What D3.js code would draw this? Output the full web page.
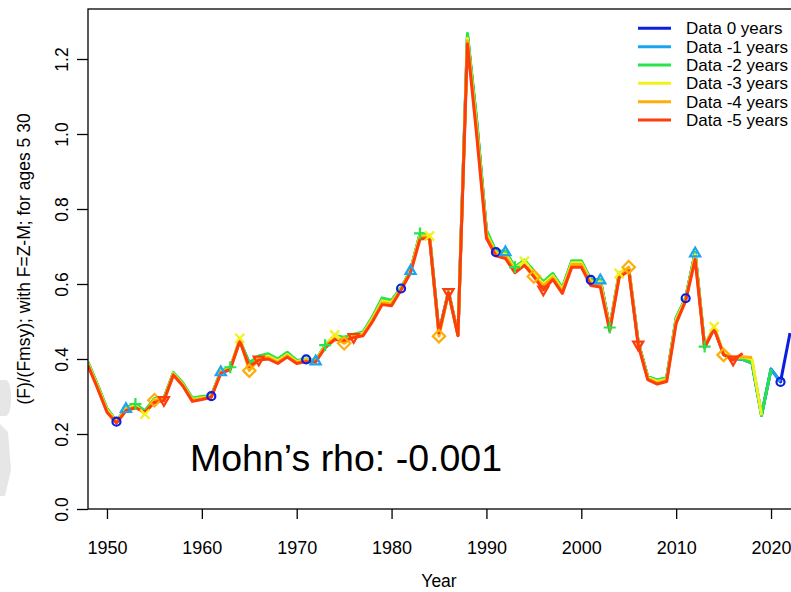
<!DOCTYPE html>
<html>
<head>
<meta charset="utf-8">
<script src="https://cdn.jsdelivr.net/npm/d3@7"></script>
<style>
  html, body { margin: 0; padding: 0; background: #ffffff; }
  svg { display: block; font-family: "Liberation Sans", Arial, sans-serif; }
</style>
</head>
<body>
<svg id="chart" width="791" height="592"></svg>
<script>
// Retrospective F/Fmsy estimates (peels 0 to -5), starting year 1948
const startYear = 1948;

const data0 = [0.390,0.330,0.266,0.233,0.268,0.278,0.260,0.293,0.294,0.362,0.334,0.294,0.298,0.301,0.366,0.377,0.449,0.388,0.406,0.412,
  0.398,0.416,0.395,0.399,0.395,0.436,0.460,0.456,0.464,0.470,0.511,0.560,0.555,0.588,0.636,0.733,0.729,0.469,0.579,0.465,
  1.262,1.025,0.740,0.685,0.686,0.644,0.662,0.633,0.604,0.626,0.588,0.660,0.660,0.611,0.611,0.483,0.628,0.641,0.444,0.352,
  0.343,0.349,0.508,0.562,0.683,0.433,0.484,0.412,0.401,0.399,0.389,0.250,0.373,0.339,0.469];
const data1 = [0.390,0.330,0.266,0.233,0.268,0.278,0.260,0.293,0.294,0.362,0.334,0.294,0.298,0.301,0.366,0.377,0.449,0.388,0.406,0.412,
  0.398,0.416,0.395,0.399,0.395,0.436,0.460,0.456,0.464,0.470,0.511,0.560,0.555,0.588,0.636,0.733,0.729,0.469,0.579,0.465,
  1.262,1.025,0.740,0.686,0.686,0.644,0.662,0.633,0.604,0.626,0.588,0.660,0.660,0.611,0.611,0.483,0.628,0.641,0.444,0.352,
  0.343,0.349,0.508,0.562,0.683,0.433,0.484,0.412,0.401,0.399,0.389,0.250,0.373,0.340];
const data2 = [0.392,0.332,0.268,0.234,0.270,0.280,0.262,0.295,0.296,0.364,0.336,0.296,0.300,0.302,0.367,0.378,0.450,0.390,0.408,0.414,
  0.400,0.418,0.396,0.400,0.397,0.437,0.462,0.458,0.466,0.472,0.513,0.563,0.557,0.590,0.637,0.735,0.730,0.470,0.580,0.466,
  1.268,1.030,0.744,0.688,0.688,0.645,0.664,0.635,0.606,0.628,0.590,0.662,0.662,0.611,0.611,0.484,0.630,0.642,0.445,0.353,
  0.344,0.350,0.510,0.563,0.683,0.433,0.484,0.413,0.402,0.400,0.390,0.250,0.373];
const data3 = [0.388,0.328,0.264,0.232,0.267,0.276,0.253,0.292,0.293,0.361,0.332,0.292,0.296,0.300,0.365,0.376,0.455,0.375,0.403,0.408,
  0.395,0.412,0.393,0.398,0.395,0.435,0.464,0.448,0.463,0.468,0.508,0.555,0.551,0.587,0.635,0.731,0.728,0.466,0.578,0.464,
  1.255,1.010,0.733,0.683,0.680,0.641,0.660,0.628,0.600,0.622,0.585,0.657,0.657,0.607,0.606,0.481,0.628,0.640,0.442,0.350,
  0.340,0.346,0.505,0.560,0.678,0.433,0.486,0.415,0.405,0.405,0.400,0.250];
const data4 = [0.385,0.325,0.261,0.231,0.265,0.273,0.256,0.290,0.291,0.359,0.330,0.290,0.294,0.300,0.364,0.374,0.452,0.369,0.400,0.404,
  0.391,0.409,0.391,0.396,0.394,0.433,0.458,0.442,0.460,0.465,0.504,0.550,0.547,0.586,0.633,0.726,0.725,0.461,0.577,0.463,
  1.248,1.000,0.728,0.680,0.675,0.636,0.655,0.620,0.595,0.617,0.580,0.652,0.652,0.603,0.600,0.478,0.622,0.645,0.440,0.348,
  0.336,0.343,0.500,0.558,0.672,0.432,0.483,0.411,0.405,0.406,0.404];
const data5 = [0.382,0.322,0.258,0.229,0.262,0.270,0.258,0.284,0.289,0.357,0.328,0.287,0.292,0.298,0.362,0.372,0.448,0.380,0.397,0.400,
  0.388,0.405,0.388,0.393,0.392,0.430,0.452,0.450,0.457,0.462,0.500,0.545,0.542,0.584,0.630,0.720,0.722,0.470,0.577,0.462,
  1.240,0.990,0.722,0.675,0.668,0.630,0.650,0.620,0.584,0.612,0.575,0.645,0.645,0.596,0.592,0.475,0.618,0.635,0.437,0.345,
  0.333,0.340,0.495,0.555,0.665,0.430,0.480,0.412,0.397,0.415];

const seriesNames = ["Data 0 years", "Data -1 years", "Data -2 years", "Data -3 years", "Data -4 years", "Data -5 years"];
const seriesValues = [data0, data1, data2, data3, data4, data5];
const seriesColors = ["#0a1fe0", "#1ba4f0", "#25e54a", "#f2f21a", "#ffad0a", "#ff3d0a"];
const markerShapes = ["circle", "triangle", "plus", "cross", "diamond", "triangleDown"];

const xTicks = [1950, 1960, 1970, 1980, 1990, 2000, 2010, 2020];
const yTicks = [0.0, 0.2, 0.4, 0.6, 0.8, 1.0, 1.2];
const yTitle = "(F)/(Fmsy); with F=Z-M; for ages 5 30";
const xTitle = "Year";
const rhoLabel = "Mohn\u2019s rho: -0.001";

const svg = d3.select("#chart");
const plotL = 88, plotR = 790, plotT = 9, plotB = 509;

const x = d3.scaleLinear().domain([1948, 2022]).range([plotL, plotR]);
const y = d3.scaleLinear().domain([0, 4 / 3]).range([plotB, plotT]);

// faint grey shapes at the left margin
svg.append("path")
  .attr("d", "M0,380 L6,380 Q11,382 11,398 Q11,414 6,416 L0,416 Z")
  .attr("fill", "#e6e6e6");
svg.append("path")
  .attr("d", "M0,424 L8,432 L11,470 L5,496 L0,496 Z")
  .attr("fill", "#e6e6e6");

svg.append("clipPath").attr("id", "plotclip")
  .append("rect").attr("x", plotL).attr("y", plotT).attr("width", plotR - plotL + 2).attr("height", plotB - plotT);

const plot = svg.append("g").attr("clip-path", "url(#plotclip)");

const line = d3.line()
  .x((d, i) => x(startYear + i))
  .y(d => y(d));

seriesValues.forEach((vals, k) => {
  plot.append("path")
    .datum(vals)
    .attr("fill", "none")
    .attr("stroke", seriesColors[k])
    .attr("stroke-width", 3)
    .attr("stroke-linejoin", "round")
    .attr("d", line);
});

function markerPath(shape, s) {
  switch (shape) {
    case "triangle": {
      const h = s * 1.9;
      return `M0,${-h * 0.6} L${s * 1.1},${h * 0.4} L${-s * 1.1},${h * 0.4} Z`;
    }
    case "triangleDown": {
      const h = s * 1.9;
      return `M0,${h * 0.6} L${s * 1.1},${-h * 0.4} L${-s * 1.1},${-h * 0.4} Z`;
    }
    case "plus": return `M${-s * 1.3},0 L${s * 1.3},0 M0,${-s * 1.3} L0,${s * 1.3}`;
    case "cross": return `M${-s},${-s} L${s},${s} M${-s},${s} L${s},${-s}`;
    case "diamond": return `M0,${-s * 1.35} L${s * 1.35},0 L0,${s * 1.35} L${-s * 1.35},0 Z`;
  }
  return "";
}

// markers every ten years, staggered by one year per peel
seriesValues.forEach((vals, k) => {
  const pts = vals.map((v, i) => ({ yr: startYear + i, v }))
    .filter(d => (d.yr - 1951 - k) % 10 === 0);
  const g = plot.append("g");
  pts.forEach(d => {
    if (markerShapes[k] === "circle") {
      g.append("circle")
        .attr("cx", x(d.yr)).attr("cy", y(d.v)).attr("r", 4)
        .attr("fill", "none").attr("stroke", seriesColors[k]).attr("stroke-width", 2.2);
    } else {
      g.append("path")
        .attr("transform", `translate(${x(d.yr)},${y(d.v)})`)
        .attr("d", markerPath(markerShapes[k], 4.6))
        .attr("fill", "none").attr("stroke", seriesColors[k]).attr("stroke-width", 2.2);
    }
  });
});

// frame (right side falls just past the canvas edge)
svg.append("rect")
  .attr("x", plotL).attr("y", plotT).attr("width", plotR - plotL + 2).attr("height", plotB - plotT)
  .attr("fill", "none").attr("stroke", "#000").attr("stroke-width", 1.3);

// axes
const yAxis = svg.append("g")
  .attr("transform", `translate(${plotL},0)`)
  .call(d3.axisLeft(y).tickValues(yTicks).tickFormat(d3.format(".1f")).tickSize(11).tickSizeOuter(0));
yAxis.select(".domain").remove();
yAxis.selectAll(".tick line").attr("stroke", "#000").attr("stroke-width", 1.3);
yAxis.selectAll(".tick text")
  .attr("transform", "rotate(-90)")
  .attr("x", 0).attr("y", -20).attr("dy", 0)
  .attr("text-anchor", "middle")
  .attr("font-size", 17.5).attr("fill", "#000")
  .attr("font-family", "Liberation Sans, Arial, sans-serif");

const xAxis = svg.append("g")
  .attr("transform", `translate(0,${plotB})`)
  .call(d3.axisBottom(x).tickValues(xTicks).tickFormat(d3.format("d")).tickSize(10).tickSizeOuter(0));
xAxis.select(".domain").remove();
xAxis.selectAll(".tick line").attr("stroke", "#000").attr("stroke-width", 1.3);
xAxis.selectAll(".tick text")
  .attr("y", 45).attr("dy", 0)
  .attr("font-size", 18).attr("fill", "#000")
  .attr("font-family", "Liberation Sans, Arial, sans-serif");

// axis titles
svg.append("text")
  .attr("transform", `translate(30,${(plotT + plotB) / 2}) rotate(-90)`)
  .attr("text-anchor", "middle")
  .attr("font-size", 17.5)
  .text(yTitle);

svg.append("text")
  .attr("x", (plotL + plotR) / 2).attr("y", 587)
  .attr("text-anchor", "middle")
  .attr("font-size", 17.5)
  .text(xTitle);

// Mohn's rho annotation
svg.append("text")
  .attr("x", 190).attr("y", 471)
  .attr("font-size", 37.5)
  .text(rhoLabel);

// legend
const legend = svg.append("g");
seriesNames.forEach((name, k) => {
  const ly = 28.3 + k * 18.35;
  legend.append("line")
    .attr("x1", 638).attr("x2", 671).attr("y1", ly).attr("y2", ly)
    .attr("stroke", seriesColors[k]).attr("stroke-width", 3);
  legend.append("text")
    .attr("x", 686).attr("y", ly + 6)
    .attr("font-size", 17)
    .text(name);
});
</script>
</body>
</html>
